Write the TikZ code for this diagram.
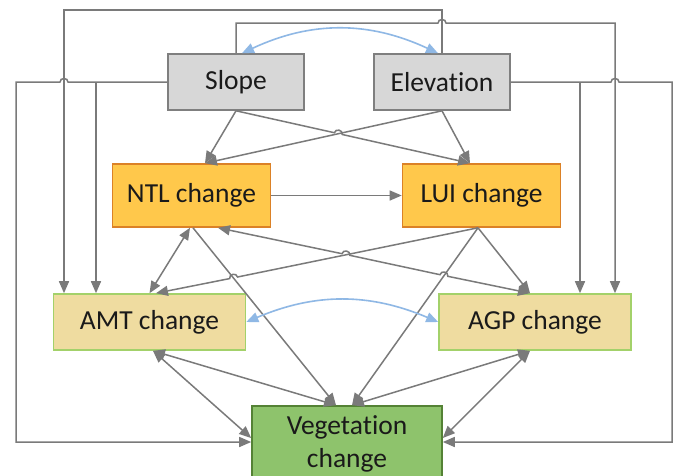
\documentclass[tikz,border=0pt]{standalone}
\usepackage{fontspec}
\setmainfont[Ligatures=NoCommon]{Carlito}
\usetikzlibrary{arrows.meta,calc}
\definecolor{lineg}{HTML}{7A7A7A}
\definecolor{grayfill}{HTML}{D7D7D7}
\definecolor{graydraw}{HTML}{7F7F7F}
\definecolor{orfill}{HTML}{FFC84B}
\definecolor{ordraw}{HTML}{DB8127}
\definecolor{begfill}{HTML}{EFDCA0}
\definecolor{begdraw}{HTML}{A3D16A}
\definecolor{vegfill}{HTML}{8EC36C}
\definecolor{vegdraw}{HTML}{548235}
\definecolor{bluel}{HTML}{8FB8E5}
\definecolor{txt}{HTML}{1A1A1A}
\begin{document}
\begin{tikzpicture}[x=1pt,y=-1pt,
  box/.style={draw,line width=1.6pt,inner sep=0pt,align=center,text=txt,
    font=\fontsize{27.5}{33}\selectfont},
  graybox/.style={box,fill=grayfill,draw=graydraw,minimum width=136pt,minimum height=56pt},
  orbox/.style={box,fill=orfill,draw=ordraw,minimum width=158pt,minimum height=63pt},
  begbox/.style={box,fill=begfill,draw=begdraw,minimum width=192pt,minimum height=56pt},
  vegbox/.style={box,fill=vegfill,draw=vegdraw,minimum width=190pt,minimum height=76pt},
  conn/.style={draw=lineg,line width=1.5pt,-{Triangle[length=12pt,width=10pt]}},
  bconn/.style={conn,{Triangle[length=12pt,width=10pt]}-{Triangle[length=12pt,width=10pt]}},
  hop/.style={bend left=90,looseness=1.5},
  hopr/.style={bend right=90,looseness=1.5},
  barrow/.style={draw=bluel,line width=1.6pt,{Triangle[length=12pt,width=10pt]}-{Triangle[length=12pt,width=10pt]}}
]
\fill[white] (0,0) rectangle (678,475);
\useasboundingbox (0,0) rectangle (678,475);
\clip (0,0) rectangle (678,475);

% nodes
\node[graybox] (slope) at (236,82) {Slope};
\node[graybox] (elev) at (442,82) {Elevation};
\node[orbox] (ntl) at (191.5,195.5) {NTL change};
\node[orbox] (lui) at (481.5,195.5) {LUI change};
\node[begbox] (amt) at (149.5,322) {AMT change};
\node[begbox] (agp) at (535,322) {AGP change};
\node[vegbox] (veg) at (347,444) {Vegetation\\change};

% anchor points
\coordinate (ntlT) at ([xshift=13.5]ntl.north);
\coordinate (luiT) at ([xshift=-11.5]lui.north);
\coordinate (ntlB) at ([xshift=-1.5]ntl.south);
\coordinate (ntlB2) at ([xshift=26.5]ntl.south);
\coordinate (luiB) at ([xshift=-3.5]lui.south);
\coordinate (amtT2) at ([xshift=6.5]amt.north);
\coordinate (amtB) at ([xshift=3.5]amt.south);
\coordinate (agpT) at ([xshift=-5]agp.north);
\coordinate (agpB) at ([xshift=-5]agp.south);
\coordinate (vegTL) at ([xshift=-11]veg.north);
\coordinate (vegTR) at ([xshift=5]veg.north);
\coordinate (vegL) at ([yshift=6]veg.west);
\coordinate (vegR) at ([yshift=6]veg.east);
\coordinate (ntlB3) at ([xshift=1.5]ntl.south);
% crossing points
\coordinate (c1) at (338.3,133.6);
\coordinate (c2) at (345.9,254.5);
\coordinate (c3) at (443.9,275.5);
\coordinate (c4) at (233.6,277.8);

% outer routes
\draw[conn] (elev.north) -- (442,10) -| ([xshift=-85.5]amt.north);
\draw[conn] (slope.north) -- (236,23) -- (438,23) to[hop] (446,23) -| ([xshift=80]agp.north);
\draw[conn] (slope.west) -- (68,82) to[hopr] (60,82) -- (16,82) |- ([yshift=2]veg.west);
\draw[conn] (96,82) -- ([xshift=-53.5]amt.north);
\draw[conn] (elev.east) -- (611,82) to[hop] (619,82) -- (672,82) |- ([yshift=2]veg.east);
\draw[conn] (580,82) -- ([xshift=45]agp.north);

% top level to middle
\draw[conn] (slope.south) -- (ntlT);
\draw[conn] (elev.south) -- (ntlT);
\draw[conn] (elev.south) -- (luiT);
\draw[conn] (slope.south) -- ($(c1)!4pt!(slope.south)$) to[hop] ($(c1)!4pt!(luiT)$) -- (luiT);
\draw[conn] (ntl.east) -- (lui.west);

% middle connections
\draw[bconn] (ntlB) -- (amt.north);
\draw[conn] (ntlB3) -- (vegTL);
\draw[bconn] (ntlB2) -- ($(c2)!4pt!(ntlB2)$) to[hop] ($(c2)!4pt!(agpT)$)
   -- ($(c3)!4pt!(ntlB2)$) to[hop] ($(c3)!4pt!(agpT)$) -- (agpT);
\draw[conn] (luiB) -- ($(c4)!4pt!(luiB)$) to[hopr] ($(c4)!4pt!(amtT2)$) -- (amtT2);
\draw[conn] (luiB) -- (agpT);
\draw[conn] (luiB) -- (vegTR);

% bottom connections
\draw[bconn] (amtB) -- (vegTL);
\draw[bconn] (amtB) -- (vegL);
\draw[bconn] (agpB) -- (vegTR);
\draw[bconn] (agpB) -- (vegR);

% blue arcs
\draw[barrow] ([xshift=6]slope.north) to[bend left=25] ([xshift=-4]elev.north);
\draw[barrow] (amt.east) to[bend left=23] (agp.west);
\end{tikzpicture}
\end{document}
